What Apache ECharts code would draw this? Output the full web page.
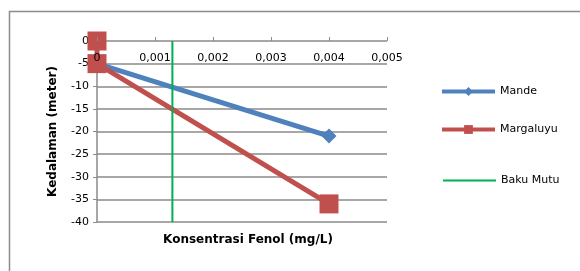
<!DOCTYPE html>
<html>
<head>
<meta charset="utf-8">
<script src="https://cdn.jsdelivr.net/npm/echarts@6/dist/echarts.min.js"></script>
<style>
  html, body { margin: 0; padding: 0; background: #fff; }
  #chart { width: 580px; height: 271px; }
</style>
</head>
<body>
<div id="chart"></div>
<script>
// values
const seriesNames = ['Mande', 'Margaluyu', 'Baku Mutu'];
const mandeData = [[0, -5], [0.004, -21]];
const margaluyuData = [[0, 0], [0, -5], [0.004, -36]];
const bakuMutuData = [[0.0013, 0], [0.0013, -40]];

const fontFamily = '"DejaVu Sans", Verdana, sans-serif';
const gridColor = '#8a8a8a';

function commaDecimal(v) {
    if (v === 0) return '0';
    return v.toFixed(3).replace('.', ',');
}

function legendFor(name, left, top, lineWidth, hideSymbol) {
    return {
        data: [name],
        left: left,
        top: top,
        padding: 0,
        orient: 'vertical',
        itemWidth: 53,
        itemHeight: 11,
        lineStyle: { width: lineWidth },
        itemStyle: hideSymbol ? { opacity: 0 } : {},
        textStyle: { fontFamily: fontFamily, fontSize: 11, color: '#000' }
    };
}

const chart = echarts.init(document.getElementById('chart'));

chart.setOption({
    animation: false,
    textStyle: { fontFamily: fontFamily },
    graphic: [{
        type: 'rect',
        shape: { x: 9.5, y: 11.5, width: 600, height: 300 },
        style: { fill: 'none', stroke: '#8c8c8c', lineWidth: 1.5 },
        silent: true
    }],
    title: {
        text: 'Konsentrasi Fenol (mg/L)',
        left: 243,
        top: 229,
        textAlign: 'center',
        textStyle: { fontFamily: fontFamily, fontSize: 12, fontWeight: 'bold', color: '#000' }
    },
    legend: [
        legendFor(seriesNames[0], 440, 86, 4, false),
        legendFor(seriesNames[1], 440, 124, 4, false),
        legendFor(seriesNames[2], 442, 175, 2, true)
    ],
    grid: { left: 97, right: 193, top: 41, bottom: 49 },
    xAxis: {
        type: 'value',
        position: 'top',
        min: 0,
        max: 0.005,
        interval: 0.001,
        z: 5,
        // the line at y = 0 comes from the y split lines, so the squares cover it
        axisLine: { show: false, onZero: false },
        axisTick: { show: true, inside: false, length: 4, lineStyle: { color: gridColor } },
        axisLabel: {
            inside: true,
            margin: 12,
            showMinLabel: true,
            hideOverlap: false,
            formatter: commaDecimal,
            color: '#000',
            fontSize: 11,
            fontFamily: fontFamily
        },
        splitLine: { show: false }
    },
    yAxis: {
        type: 'value',
        min: -40,
        max: 0,
        interval: 5,
        name: 'Kedalaman (meter)',
        nameLocation: 'middle',
        nameGap: 38,
        nameTextStyle: { fontFamily: fontFamily, fontSize: 12, fontWeight: 'bold', color: '#000' },
        axisLine: { show: true, lineStyle: { color: gridColor, width: 1.5 } },
        axisTick: { show: true, length: 4, lineStyle: { color: gridColor } },
        axisLabel: { color: '#000', fontSize: 11, fontFamily: fontFamily, margin: 8 },
        splitLine: { show: true, lineStyle: { color: gridColor, width: 1.5 } }
    },
    series: [
        {
            name: seriesNames[0],
            type: 'line',
            data: mandeData,
            symbol: 'diamond',
            symbolSize: 15,
            clip: false,
            lineStyle: { color: '#4f81bd', width: 5 },
            itemStyle: { color: '#4f81bd' }
        },
        {
            name: seriesNames[1],
            type: 'line',
            data: margaluyuData,
            symbol: 'rect',
            symbolSize: 19,
            clip: false,
            lineStyle: { color: '#c0504d', width: 5 },
            itemStyle: { color: '#c0504d' }
        },
        {
            name: seriesNames[2],
            type: 'line',
            data: bakuMutuData,
            symbol: 'none',
            clip: false,
            z: 3,
            lineStyle: { color: '#00b050', width: 2 },
            itemStyle: { color: '#00b050' }
        }
    ]
});
</script>
</body>
</html>
